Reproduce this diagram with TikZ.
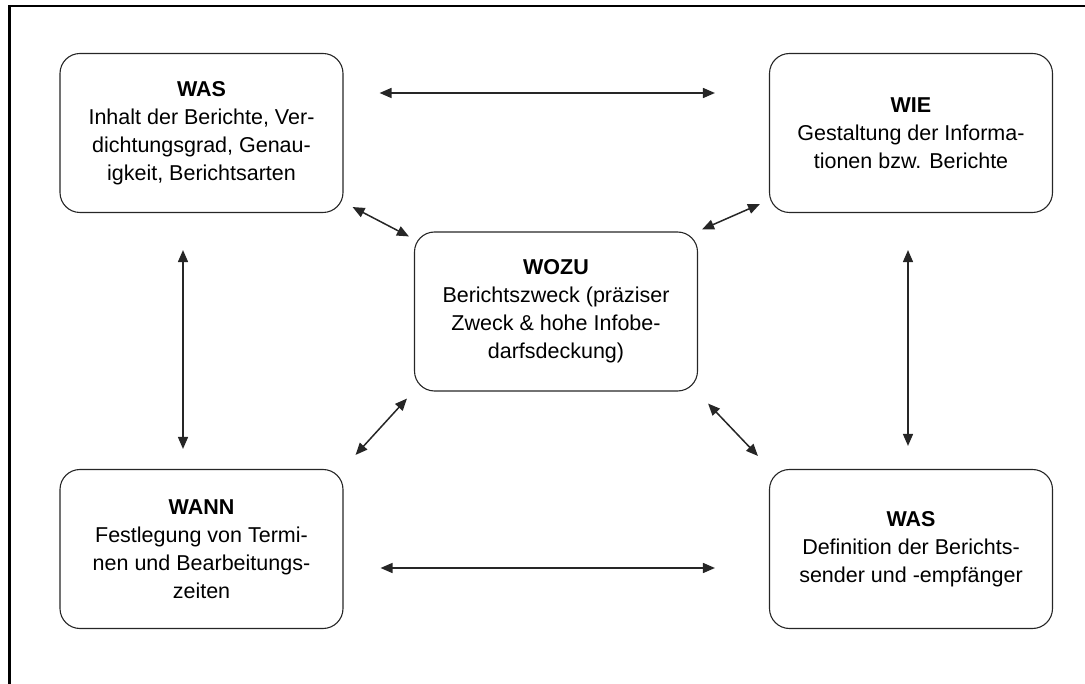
\documentclass[tikz,border=0pt]{standalone}
\usepackage{fontspec}
\setmainfont{Liberation Sans}
\usetikzlibrary{arrows.meta}
\begin{document}
\begin{tikzpicture}[x=1pt,y=-1pt,
  box/.style={draw=black!85, line width=1.1pt, rounded corners=20pt,
    minimum width=283pt, minimum height=159pt, align=center, inner sep=0pt,
    font=\fontsize{21.5}{28}\selectfont},
  arr/.style={draw=black!85, line width=1.5pt,
    {Triangle[length=12pt,width=10pt]}-{Triangle[length=12pt,width=10pt]}},
  frame/.style={line width=2.5pt, black}]
\useasboundingbox (0,0) rectangle (1085,684);
\draw[frame] (9.5,684) -- (9.5,6) -- (1085,6);
\node[box] (was)  at (201.5,133) {\textbf{WAS}\\Inhalt der Berichte, Ver-\\dichtungsgrad, Genau-\\igkeit, Berichtsarten};
\node[box] (wie)  at (911,133) {\textbf{WIE}\\Gestaltung der Informa-\\tionen bzw. Berichte};
\node[box] (wozu) at (556,311.5) {\textbf{WOZU}\\Berichtszweck (präziser\\Zweck \& hohe Infobe-\\darfsdeckung)};
\node[box] (wann) at (201.5,549) {\textbf{WANN}\\Festlegung von Termi-\\nen und Bearbeitungs-\\zeiten};
\node[box] (was2) at (911,549) {\textbf{WAS}\\Definition der Berichts-\\sender und -empfänger};
% horizontal
\draw[arr] ([xshift=36pt,yshift=40pt]was.east) -- ([xshift=-54pt,yshift=40pt]wie.west);
\draw[arr] ([xshift=37pt,yshift=-19pt]wann.east) -- ([xshift=-54pt,yshift=-19pt]was2.west);
% vertical
\draw[arr] ([xshift=-18.5pt,yshift=-37pt]was.south) -- ([xshift=-18.5pt,yshift=20pt]wann.north);
\draw[arr] ([xshift=-3pt,yshift=-37pt]wie.south) -- ([xshift=-3pt,yshift=23pt]was2.north);
% diagonals
\draw[arr] ([xshift=9pt,yshift=6pt]was.south east) -- ([xshift=-5pt,yshift=-5pt]wozu.north west);
\draw[arr] ([xshift=4pt,yshift=2pt]wozu.north east) -- ([xshift=-9pt,yshift=9pt]wie.south west);
\draw[arr] ([xshift=12pt,yshift=14pt]wann.north east) -- ([xshift=-7pt,yshift=-7pt]wozu.south west);
\draw[arr] ([xshift=10pt,yshift=-12pt]wozu.south east) -- ([xshift=-11pt,yshift=13pt]was2.north west);
\end{tikzpicture}
\end{document}
